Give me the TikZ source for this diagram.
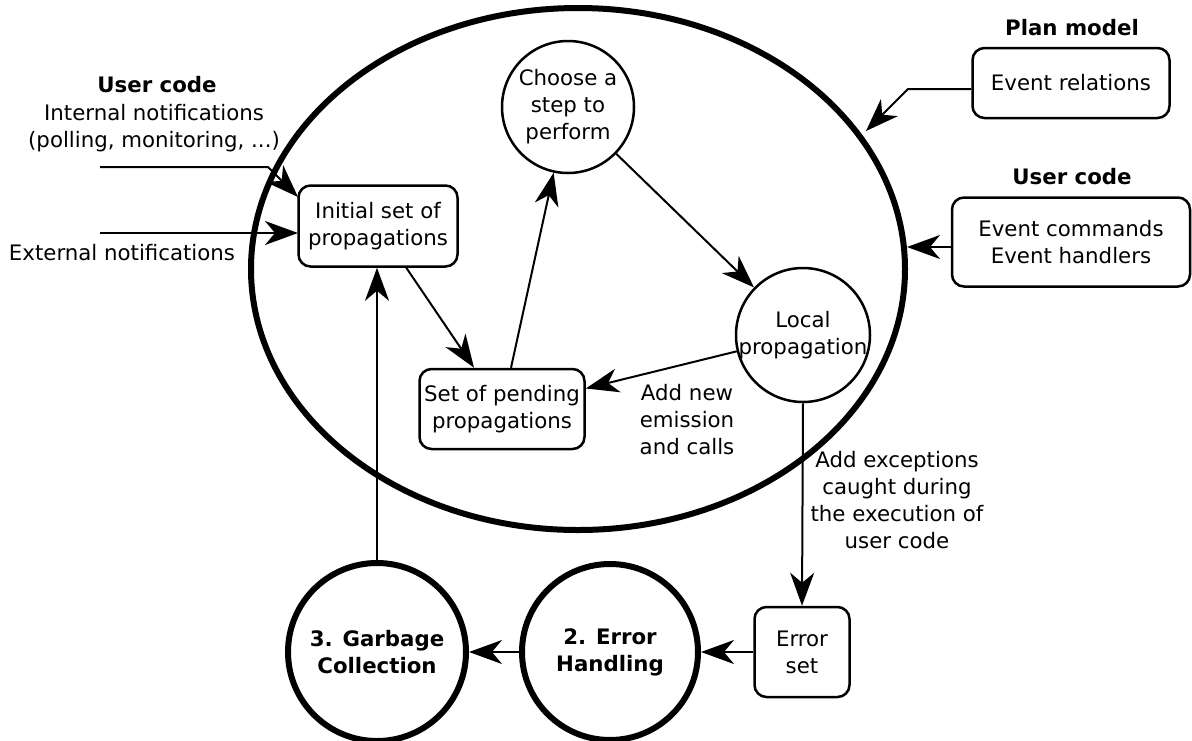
\documentclass[tikz,border=0pt]{standalone}
\usepackage{fontspec}
\setmainfont{DejaVu Sans}
\usetikzlibrary{arrows.meta,shapes.geometric}
\begin{document}
\begin{tikzpicture}[x=1pt,y=-1pt,
  every node/.style={font=\fontsize{21.3}{27}\selectfont, align=center},
  arr/.style={-{Stealth[length=33pt,width=24pt,inset=10pt]}, line width=2pt},
  thincirc/.style={draw, circle, line width=2.5pt, inner sep=-14pt, minimum size=#1},
  thickcirc/.style={draw, circle, line width=6pt, inner sep=-14pt, minimum size=#1, font=\bfseries\fontsize{21.3}{27}\selectfont},
  box/.style={draw, rounded corners=12pt, line width=2.5pt, inner sep=0pt},
  lbl/.style={inner sep=0pt},
  ttl/.style={inner sep=0pt, font=\bfseries\fontsize{21.3}{27}\selectfont}]
\useasboundingbox (0,0) rectangle (1192,740);

\node[draw, ellipse, line width=6pt, minimum width=654pt, minimum height=522pt, inner sep=0pt] (sys) at (578,269) {};
\node[thincirc=132pt] (choose) at (568,107) {Choose a\\step to\\perform};
\node[thincirc=134pt] (local) at (803,335) {Local\\propagation};
\node[box, minimum width=159pt, minimum height=81pt] (init) at (378,226) {Initial set of\\propagations};
\node[box, minimum width=165pt, minimum height=80pt] (pend) at (502,409) {Set of pending\\propagations};
\node[box, minimum width=95pt, minimum height=90pt] (err) at (802,652) {Error\\set};
\node[thickcirc=176pt] (eh) at (610,652) {2. Error\\Handling};
\node[thickcirc=178pt] (gc) at (377,652) {3. Garbage\\Collection};
\node[box, minimum width=197pt, minimum height=70pt] (plan) at (1071,83) {Event relations};
\node[box, minimum width=238pt, minimum height=89pt] (ucb) at (1071,242) {Event commands\\Event handlers};

\node[ttl] (t1) at (1072,28) {Plan model};
\node[ttl] (t2) at (1072,177) {User code};
\node[ttl] (t3) at (157,85) {User code};
\node[lbl] (int) at (154,128) {Internal notifications\\(polling, monitoring, ...)};
\node[lbl] (ext) at (122,253) {External notifications};
\node[lbl] (an) at (687,420) {Add new\\emission\\and calls};
\node[lbl] (ae) at (897,500) {Add exceptions\\caught during\\the execution of\\user code};

\coordinate (i0) at (100,167);
\coordinate (i1) at (268,167);
\coordinate (i2) at (298,197);
\coordinate (e0) at (100,233);
\coordinate (e1) at (298,233);
\coordinate (p1) at (908,89);
\coordinate (p2) at (866,131);
\coordinate (u1) at (907,247);

\draw[arr] (i0) -- (i1) -- (i2);
\draw[arr] (e0) -- (e1);
\draw[arr] (plan.west |- p1) -- (p1) -- (p2);
\draw[arr] (ucb.west |- u1) -- (u1);
\draw[arr] (choose) -- (local);
\draw[arr] (local) -- (pend);
\draw[arr] (init) -- (pend);
\draw[arr] (pend) -- (choose);
\draw[arr] (local.south) -- (err.north);
\draw[arr] (err) -- (eh);
\draw[arr] (eh) -- (gc);
\draw[arr] (gc.north) -- (gc.north |- init.south);
\end{tikzpicture}
\end{document}
